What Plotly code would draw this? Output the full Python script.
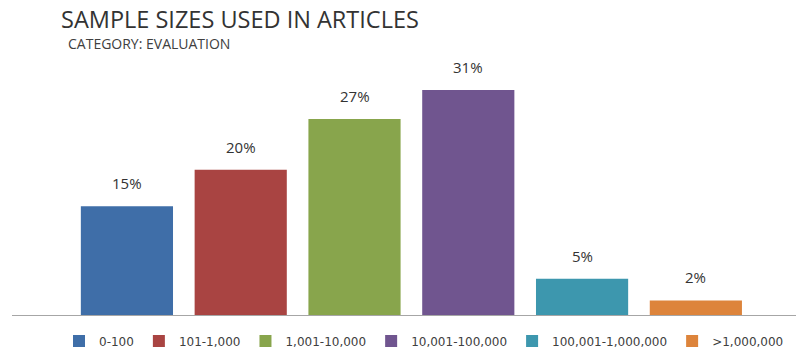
import plotly.graph_objects as go

categories = ["0-100", "101-1,000", "1,001-10,000", "10,001-100,000", "100,001-1,000,000", ">1,000,000"]
values = [15, 20, 27, 31, 5, 2]
colors = ["#3F6EA8", "#A94442", "#88A54C", "#70558F", "#3D97AE", "#DD843B"]

fig = go.Figure()
for c, v, col in zip(categories, values, colors):
    fig.add_trace(go.Bar(x=[c], y=[v], name=c, marker=dict(color=col, line=dict(width=0)),
                         width=0.81, hoverinfo="skip"))
    fig.add_annotation(x=c, y=v, text=f"{v}%", showarrow=False, yanchor="bottom", yshift=11,
                       font=dict(family="Open Sans", size=15, color="#333333"))

fig.update_layout(
    width=796, height=352,
    margin=dict(l=12, r=0, t=61, b=37, autoexpand=False),
    paper_bgcolor="white", plot_bgcolor="white",
    barmode="overlay",
    showlegend=True,
    legend=dict(orientation="h", xref="container", x=424 / 796, xanchor="center",
                yref="container", y=1 - 341 / 352, yanchor="middle",
                font=dict(family="DejaVu Sans", size=12, color="#404040"),
                itemwidth=30, traceorder="normal"),
    title=dict(text="SAMPLE SIZES USED IN ARTICLES", xref="container", x=61 / 796, xanchor="left",
               yref="container", y=1 - 20 / 352, yanchor="middle",
               font=dict(family="Open Sans", size=23.5, color="#333333")),
    xaxis=dict(range=[-1.01, 5.88], showline=True, linecolor="#A6A6A6", linewidth=1,
               showticklabels=False, ticks="", showgrid=False, zeroline=False, fixedrange=True),
    yaxis=dict(range=[0, 35], visible=False, showgrid=False, zeroline=False),
)
fig.add_annotation(text="CATEGORY: EVALUATION", xref="paper", yref="paper",
                   x=(66 - 12) / 784, y=(315 - 44) / 254, xanchor="left", yanchor="middle",
                   showarrow=False, font=dict(family="Open Sans", size=14, color="#404040"))

fig.write_html("out.html")
